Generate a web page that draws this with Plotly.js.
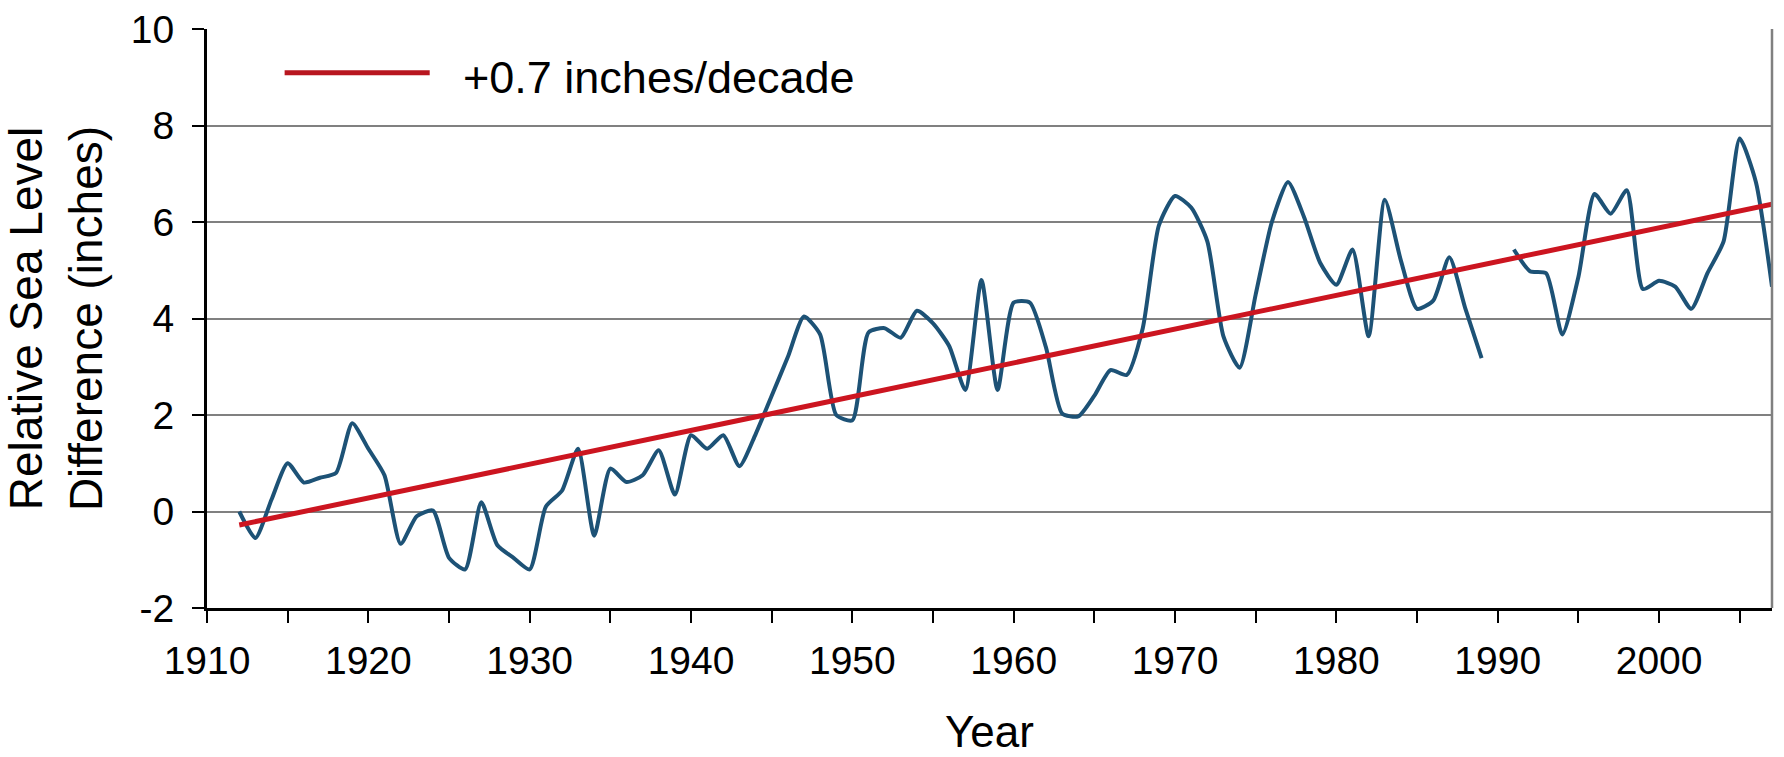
<!DOCTYPE html>
<html>
<head>
<meta charset="utf-8">
<script src="https://cdn.plot.ly/plotly-3.0.1.min.js"></script>
<style>
  html, body { margin: 0; padding: 0; background: #ffffff; }
  #chart { width: 1784px; height: 757px; }
</style>
</head>
<body>
<div id="chart"></div>
<script>
// ---- Data ----
const years = [
  1912, 1913, 1914, 1915, 1916, 1917, 1918, 1919, 1920, 1921,
  1922, 1923, 1924, 1925, 1926, 1927, 1928, 1929, 1930, 1931,
  1932, 1933, 1934, 1935, 1936, 1937, 1938, 1939, 1940, 1941,
  1942, 1943, 1944, 1945, 1946, 1947, 1948, 1949, 1950, 1951,
  1952, 1953, 1954, 1955, 1956, 1957, 1958, 1959, 1960, 1961,
  1962, 1963, 1964, 1965, 1966, 1967, 1968, 1969, 1970, 1971,
  1972, 1973, 1974, 1975, 1976, 1977, 1978, 1979, 1980, 1981,
  1982, 1983, 1984, 1985, 1986, 1987, 1988, 1989, 1990, 1991,
  1992, 1993, 1994, 1995, 1996, 1997, 1998, 1999, 2000, 2001,
  2002, 2003, 2004, 2005, 2006, 2007
];
const seaLevel = [
  0.00, -0.55, 0.25, 1.00, 0.60, 0.70, 0.80, 1.83, 1.30, 0.75,
  -0.67, -0.10, 0.02, -0.96, -1.20, 0.19, -0.70, -0.96, -1.20, 0.10,
  0.43, 1.30, -0.50, 0.89, 0.61, 0.75, 1.27, 0.35, 1.58, 1.30,
  1.58, 0.94, 1.60, 2.40, 3.20, 4.04, 3.67, 2.00, 1.89, 3.71,
  3.80, 3.60, 4.16, 3.90, 3.43, 2.52, 4.80, 2.52, 4.33, 4.33,
  3.40, 2.03, 1.97, 2.40, 2.93, 2.83, 3.80, 5.93, 6.54, 6.30,
  5.60, 3.63, 2.98, 4.50, 6.00, 6.83, 6.10, 5.15, 4.70, 5.43,
  3.63, 6.46, 5.20, 4.20, 4.37, 5.27, 4.20, 3.18, null, 5.43,
  4.98, 4.94, 3.67, 4.86, 6.58, 6.17, 6.66, 4.61, 4.78, 4.66,
  4.20, 4.94, 5.60, 7.73, 6.83, 4.66
];
const trendYears = [1912, 2007];
const trendValues = [-0.28, 6.37];
const trendLabel = "+0.7 inches/decade";

const yTickValues = [-2, 0, 2, 4, 6, 8, 10];
const yTickLabels = ["-2", "0", "2", "4", "6", "8", "10"];

const xTitle = "Year";
const yTitle = "Relative Sea Level<br>Difference (inches)";

// ---- Styling ----
const FONT = '"Liberation Sans", Arial, "DejaVu Sans", sans-serif';
const BLUE = '#1d5276';
const RED = '#cc1520';
const GRID = '#808080';

const traces = [
  {
    x: years, y: seaLevel, type: 'scatter', mode: 'lines',
    line: { color: BLUE, width: 4, shape: 'spline', smoothing: 0.6 },
    connectgaps: false, showlegend: false, hoverinfo: 'x+y'
  },
  {
    x: trendYears, y: trendValues, type: 'scatter', mode: 'lines',
    line: { color: RED, width: 5 },
    name: trendLabel, showlegend: false, hoverinfo: 'x+y'
  }
];

const layout = {
  width: 1784, height: 757,
  margin: { l: 207, r: 12, t: 29, b: 149, pad: 0 },
  paper_bgcolor: '#ffffff', plot_bgcolor: '#ffffff',
  font: { family: FONT, color: '#000000', size: 39 },
  showlegend: false,
  xaxis: {
    range: [1910, 2007],
    tick0: 1910, dtick: 10,
    ticks: 'outside', ticklen: 12, tickwidth: 2, tickcolor: '#000000',
    minor: { dtick: 5, tick0: 1910, ticks: 'outside', ticklen: 12, tickwidth: 2, tickcolor: '#000000', showgrid: false },
    showgrid: false, zeroline: false,
    showline: true, linecolor: '#000000', linewidth: 3,
    tickfont: { family: FONT, size: 39, color: '#000000' },
    ticklabelstandoff: 4,
    title: { text: xTitle, font: { family: FONT, size: 44, color: '#000000' }, standoff: 36 },
    automargin: false, fixedrange: true
  },
  yaxis: {
    range: [-2, 10],
    tickmode: 'array', tickvals: yTickValues, ticktext: yTickLabels,
    ticks: 'outside', ticklen: 12, tickwidth: 2, tickcolor: '#000000',
    showgrid: true, gridcolor: GRID, gridwidth: 2,
    zeroline: false,
    showline: true, linecolor: '#000000', linewidth: 3,
    tickfont: { family: FONT, size: 39, color: '#000000' },
    ticklabelstandoff: 10,
    title: { text: yTitle, font: { family: FONT, size: 46, color: '#000000' }, standoff: 16 },
    automargin: false, fixedrange: true
  },
  shapes: [
    // right border of plot area
    { type: 'line', xref: 'paper', yref: 'paper', x0: 1, x1: 1, y0: 0, y1: 1,
      line: { color: GRID, width: 2.5 } },
    // legend sample line
    { type: 'line', xref: 'paper', yref: 'paper', x0: 0.0496, x1: 0.1423, y0: 0.9245, y1: 0.9245,
      line: { color: '#b8161f', width: 5 } }
  ],
  annotations: [
    { xref: 'paper', yref: 'paper', x: 0.1623, y: 0.916, xanchor: 'left', yanchor: 'middle',
      text: trendLabel, showarrow: false,
      font: { family: FONT, size: 45, color: '#000000' } }
  ]
};

Plotly.newPlot('chart', traces, layout, { displayModeBar: false, staticPlot: true });
</script>
</body>
</html>
